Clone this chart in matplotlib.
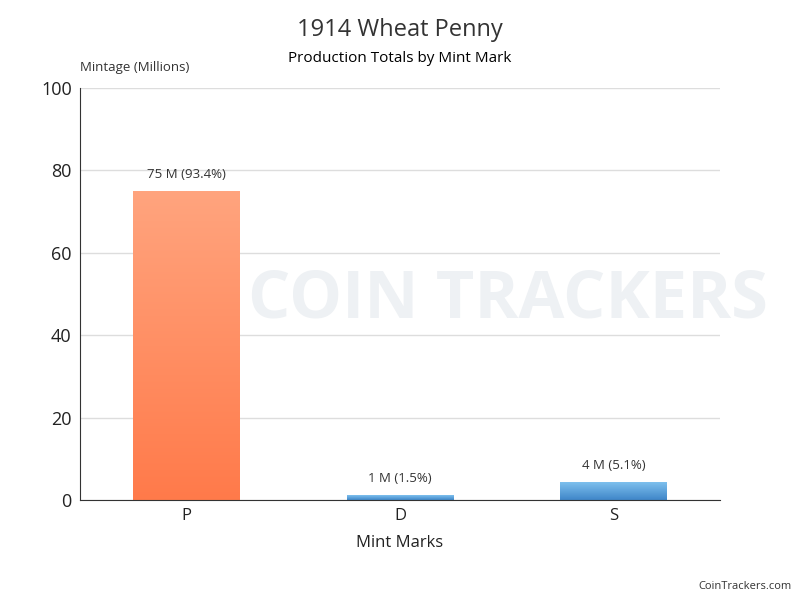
import numpy as np
import matplotlib.pyplot as plt
from matplotlib.colors import LinearSegmentedColormap

plt.rcParams['font.family'] = ['Open Sans', 'DejaVu Sans']

mints = ['P', 'D', 'S']
mintage = [75, 1.2, 4.2]
bar_labels = ['75 M (93.4%)', '1 M (1.5%)', '4 M (5.1%)']
yticks = [0, 20, 40, 60, 80, 100]

grad = {
    'P': ('#FFA47E', '#FF7A4A'),
    'D': ('#7EC0EE', '#3F86C8'),
    'S': ('#7EC0EE', '#3F86C8'),
}

fig = plt.figure(figsize=(8, 6), dpi=100)
ax = fig.add_axes([0.1, 1 - 500 / 600, 0.8, (500 - 88) / 600])

# faint watermark behind the plot
fig.text(0.31, 0.5, 'COIN TRACKERS', fontsize=48, fontweight='bold', color='#eef1f4',
         ha='left', va='center', zorder=-1)
ax.patch.set_alpha(0)

width = 0.5
for i, (m, v) in enumerate(zip(mints, mintage)):
    top, bot = grad[m]
    cmap = LinearSegmentedColormap.from_list(m, [bot, top])
    g = np.linspace(0, 1, 256).reshape(-1, 1)
    ax.imshow(g, cmap=cmap, origin='lower', aspect='auto',
              extent=(i - width / 2, i + width / 2, 0, v), zorder=2)
    ax.text(i, v + 2.5, bar_labels[i], ha='center', va='bottom', fontsize=9.5, color='#333333')

ax.set_xlim(-0.5, 2.5)
ax.set_ylim(0, 100)
ax.set_xticks(range(len(mints)))
ax.set_xticklabels(mints, fontsize=12, color='#222222')
ax.set_yticks(yticks)
ax.set_yticklabels([str(t) for t in yticks], fontsize=13, color='#222222')
ax.grid(axis='y', color='#dddddd', linewidth=1, zorder=0)
ax.set_axisbelow(True)
for s in ['top', 'right']:
    ax.spines[s].set_visible(False)
ax.spines['left'].set_color('#333333')
ax.spines['bottom'].set_color('#333333')
ax.tick_params(length=0, pad=6)
ax.set_xlabel('Mint Marks', fontsize=12, color='#222222', labelpad=8)

fig.text(0.5, 0.95, '1914 Wheat Penny', ha='center', va='center', fontsize=17, color='#333333')
fig.text(0.5, 0.903, 'Production Totals by Mint Mark', ha='center', va='center',
         fontsize=11, color='#000000')
fig.text(0.1, 0.888, 'Mintage (Millions)', ha='left', va='center', fontsize=9.5, color='#333333')
fig.text(0.99, 0.023, 'CoinTrackers.com', ha='right', va='center', fontsize=8, color='#333333')

fig.savefig('out.png', dpi=100)
